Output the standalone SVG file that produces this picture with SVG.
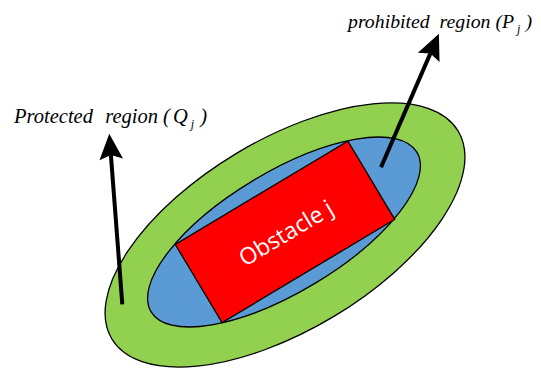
<svg xmlns="http://www.w3.org/2000/svg" width="541" height="370" viewBox="0 0 541 370">
<style>
.lbl{font-family:"Liberation Serif","Times New Roman",serif;font-style:italic;font-size:20.5px;fill:#000}
.sub{font-size:12px}
.shape{stroke:#000;stroke-width:1.3}
.arr{stroke:#000;stroke-width:4;fill:none}
</style>
<defs>
<marker id="ah" markerUnits="userSpaceOnUse" markerWidth="30" markerHeight="30" refX="4" refY="0" viewBox="-2 -13 28 26" orient="auto">
<path d="M0,-11 L24,0 L0,11 L4,0 Z" fill="#000"/>
</marker>
</defs>
<g id="protected-region">
<ellipse class="shape" cx="285" cy="235" rx="202" ry="95" fill="#92D050" transform="rotate(-31 285 235)"/>
</g>
<g id="prohibited-region">
<ellipse class="shape" cx="284" cy="232" rx="155" ry="60" fill="#5B9BD5" transform="rotate(-31 284 232)"/>
</g>
<g id="obstacle">
<rect class="shape" x="184.4" y="186.3" width="201.2" height="91.2" fill="#FF0000" transform="rotate(-30.9 285 231.9)"/>
<text x="286" y="241" text-anchor="middle" font-family="Open Sans, Noto Sans, sans-serif" font-size="23" fill="#fff" transform="rotate(-31 286 233)">Obstacle j</text>
</g>
<g id="connectors">
<line class="arr" x1="122.3" y1="304.3" x2="110.9" y2="155" marker-end="url(#ah)"/>
<line class="arr" x1="381" y1="167.3" x2="430.4" y2="53.4" marker-end="url(#ah)"/>
</g>
<g id="label-protected">
<text class="lbl" x="14" y="123" xml:space="preserve">Protected  <tspan dx="2">region</tspan> (<tspan dx="3">Q</tspan><tspan class="sub" dx="3" dy="5">j</tspan><tspan dy="-5" dx="1"> )</tspan></text>
</g>
<g id="label-prohibited">
<text class="lbl" x="348" y="28" font-size="19.8" style="font-size:19.8px" xml:space="preserve">prohibited  region (P<tspan class="sub" dx="3" dy="5">j</tspan><tspan dy="-5"> )</tspan></text>
</g>
</svg>
